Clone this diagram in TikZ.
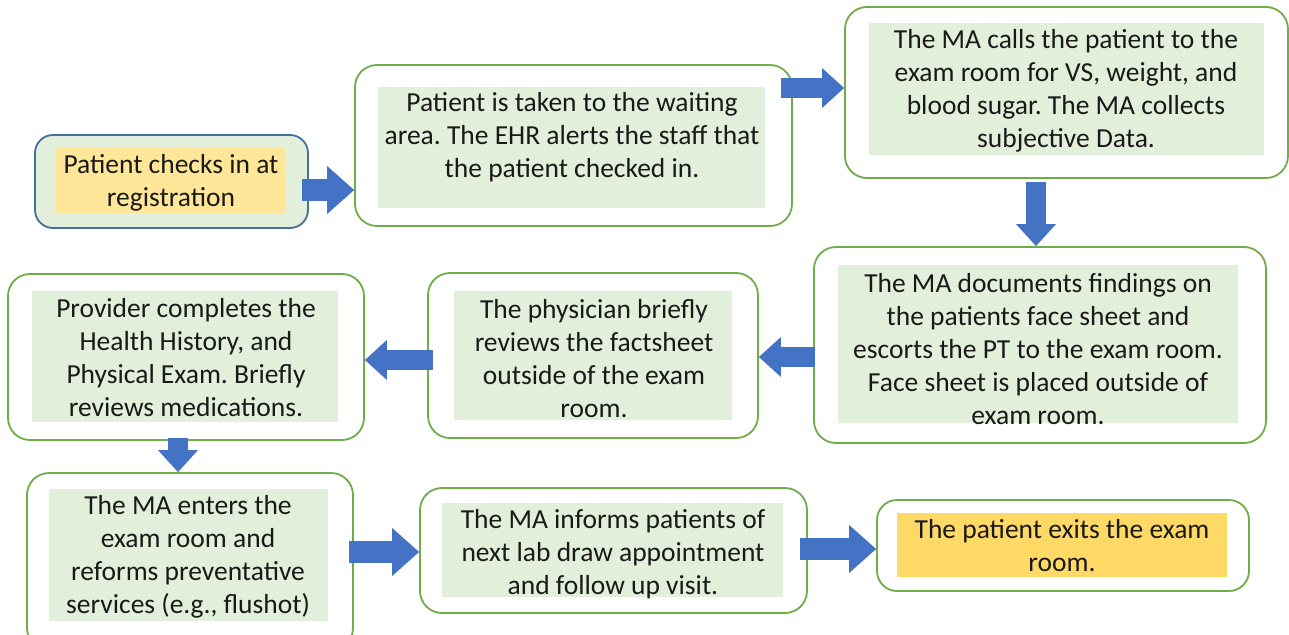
\documentclass[tikz,border=0pt]{standalone}
\usepackage{fontspec}
\setmainfont{Carlito}
\usetikzlibrary{arrows.meta}
\frenchspacing

\definecolor{boxgreen}{HTML}{70AD47}
\definecolor{boxblue}{HTML}{41719C}
\definecolor{fillgreen}{HTML}{E2EFDA}
\definecolor{fillgold}{HTML}{FFE699}
\definecolor{fillgolddark}{HTML}{FFD966}
\definecolor{arrowblue}{HTML}{4472C4}

\tikzset{
  stepbox/.style={draw=boxgreen, line width=1.8pt, fill=white, rounded corners=22pt},
  steptext/.style={align=center, inner sep=0pt, text=black!90, font=\fontsize{27.5}{33}\selectfont},
  flow/.style={draw=arrowblue, line width=20pt, -{Triangle[width=40pt,length=22pt,line width=0pt]}},
  bigflow/.style={flow, line width=22pt, -{Triangle[width=48pt,length=27pt,line width=0pt]}}
}

\begin{document}
\begin{tikzpicture}[x=1pt,y=-1pt]

\useasboundingbox[fill=white] (0,0) rectangle (1289,634);

% registration
\node[stepbox, draw=boxblue, fill=fillgreen, rounded corners=18pt, minimum width=273pt, minimum height=93pt] (reg) at (171.5,181.5) {};
\fill[fillgold] (55,148) rectangle (285,213);
\node[steptext] (treg) at (171,183) {Patient checks in at\\registration};

% waiting area
\node[stepbox, minimum width=437pt, minimum height=161pt] (wait) at (573.5,145.5) {};
\fill[fillgreen] (378,87) rectangle (765,208);
\node[steptext] (twait) at (572,137.5) {Patient is taken to the waiting\\area. The EHR alerts the staff that\\the patient checked in.};

% exam room call
\node[stepbox, minimum width=443pt, minimum height=171pt] (call) at (1066.5,92.5) {};
\fill[fillgreen] (869,23) rectangle (1264,155);
\node[steptext] (tcall) at (1066,90.5) {The MA calls the patient to the\\exam room for VS, weight, and\\blood sugar. The MA collects\\subjective Data.};

% face sheet
\node[stepbox, minimum width=452pt, minimum height=196pt] (face) at (1040,345) {};
\fill[fillgreen] (838,265) rectangle (1238,423);
\node[steptext] (tface) at (1038,349) {The MA documents findings on\\the patients face sheet and\\escorts the PT to the exam room.\\Face sheet is placed outside of\\exam room.};

% physician review
\node[stepbox, minimum width=330pt, minimum height=165pt] (phys) at (593,355.5) {};
\fill[fillgreen] (454,291) rectangle (732,420);
\node[steptext] (tphys) at (594,359) {The physician briefly\\reviews the factsheet\\outside of the exam\\room.};

% provider exam
\node[stepbox, minimum width=356pt, minimum height=166pt] (prov) at (186,357) {};
\fill[fillgreen] (32,291) rectangle (338,422);
\node[steptext] (tprov) at (186,358) {Provider completes the\\Health History, and\\Physical Exam. Briefly\\reviews medications.};

% preventative services
\node[stepbox, minimum width=326pt, minimum height=177pt] (prev) at (190,561.5) {};
\fill[fillgreen] (49,489) rectangle (328,621);
\node[steptext] (tprev) at (188,557) {The MA enters the\\exam room and\\reforms preventative\\services (e.g., flushot)};

% lab appointment
\node[stepbox, minimum width=387pt, minimum height=125pt] (lab) at (613.5,550.5) {};
\fill[fillgreen] (442,503) rectangle (783,597);
\node[steptext] (tlab) at (613,554) {The MA informs patients of\\next lab draw appointment\\and follow up visit.};

% exit
\node[stepbox, rounded corners=20pt, minimum width=372pt, minimum height=91pt] (exit) at (1063,545.5) {};
\fill[fillgolddark] (897,513) rectangle (1227,577);
\node[steptext] (texit) at (1062,546) {The patient exits the exam\\room.};

% block arrows
\coordinate (a1) at (302,190);
\coordinate (a2) at (781,88);
\coordinate (a3) at (1036,182);
\coordinate (a4) at (815,357);
\coordinate (a5) at (433,360);
\coordinate (a6) at (178,438);
\coordinate (a7) at (349,552);
\coordinate (a8) at (800,549);

\draw[bigflow] (a1) -- (wait.west |- a1);
\draw[flow] (a2) -- (call.west |- a2);
\draw[flow] (a3) -- (a3 |- face.north);
\draw[flow] (a4) -- (phys.east |- a4);
\draw[flow] (a5) -- (prov.east |- a5);
\draw[flow] (a6) -- (a6 |- prev.north);
\draw[bigflow] (a7) -- (lab.west |- a7);
\draw[bigflow] (a8) -- (exit.west |- a8);

\end{tikzpicture}
\end{document}
